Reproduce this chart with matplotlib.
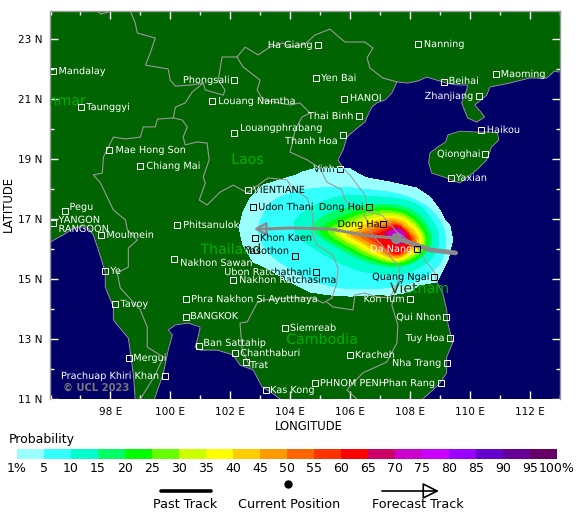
import matplotlib
matplotlib.use('Agg')
import matplotlib.pyplot as plt
import matplotlib.patheffects as pe
from matplotlib.lines import Line2D
from matplotlib.patches import FancyArrowPatch, PathPatch, Polygon
from matplotlib.path import Path
from matplotlib.ticker import MultipleLocator

# sea and island outlines, (lon, lat)
east_sea = [(112.97, 21.90), (112.83, 21.93), (112.57, 21.70), (112.00, 21.70), (111.33, 21.53), (110.67, 21.40),
            (110.57, 21.13), (110.17, 20.80), (110.40, 20.53), (110.50, 20.40), (110.23, 20.23), (109.93, 20.37),
            (109.73, 20.87), (109.90, 21.30), (109.93, 21.47), (109.57, 21.47), (109.23, 21.53), (108.90, 21.63),
            (108.57, 21.73), (108.27, 21.60), (107.93, 21.53), (107.57, 21.57), (107.40, 21.20), (107.17, 20.97),
            (106.90, 20.87), (106.73, 20.73), (106.57, 20.40), (106.50, 20.23), (106.17, 19.97), (105.90, 19.73),
            (105.77, 19.30), (105.60, 18.97), (105.77, 18.70), (106.00, 18.47), (106.50, 17.80), (106.63, 17.23),
            (107.07, 17.13), (107.57, 16.57), (108.27, 16.03), (108.57, 15.53), (108.83, 15.23), (108.90, 14.90),
            (109.10, 14.53), (109.23, 13.97), (109.27, 13.53), (109.43, 12.87), (109.23, 12.40), (109.23, 11.87),
            (109.00, 11.53), (108.77, 11.30), (108.43, 11.00), (113.00, 11.00), (113.00, 21.90)]
andaman_sea = [(96.00, 16.23), (96.23, 16.37), (96.43, 16.47), (96.67, 16.63), (96.90, 16.73), (97.23, 16.73),
               (97.43, 16.47), (97.60, 15.97), (97.83, 15.23), (97.83, 14.73), (98.10, 14.07), (98.10, 13.63),
               (98.60, 13.03), (98.67, 12.53), (98.77, 11.80), (98.83, 11.00), (96.00, 11.00)]
gulf_thailand = [(99.47, 11.00), (99.77, 11.87), (99.93, 12.63), (100.07, 13.13), (99.93, 13.30), (100.17, 13.47),
                 (100.60, 13.53), (101.00, 13.40), (100.93, 13.07), (100.83, 12.73), (101.00, 12.63), (101.57, 12.63),
                 (102.10, 12.47), (102.33, 12.13), (102.77, 11.97), (103.07, 11.40), (103.40, 11.20), (103.67, 11.00)]
hainan = [(108.67, 19.20), (108.93, 19.40), (109.20, 19.57), (109.27, 19.80), (109.67, 19.93), (110.23, 19.90),
          (110.67, 19.90), (110.93, 19.87), (110.97, 19.63), (110.73, 19.40), (110.57, 18.97), (110.23, 18.63),
          (109.67, 18.20), (109.23, 18.37), (108.73, 18.53), (108.63, 18.87)]

# country borders
border_china = [(98.67, 23.93), (98.83, 23.53), (98.90, 23.20), (99.50, 23.03), (99.33, 22.53), (99.17, 22.13),
                (99.93, 22.00), (100.00, 21.63), (100.17, 21.43), (100.73, 21.47), (101.10, 21.53), (101.17, 21.30),
                (101.77, 21.13), (101.83, 21.30), (101.60, 21.63), (101.73, 22.40), (102.23, 22.40), (102.50, 22.73),
                (102.93, 22.47), (103.33, 22.73), (103.77, 22.87), (104.00, 22.73), (104.50, 22.83), (104.83, 23.13),
                (105.33, 23.33), (105.83, 22.90), (106.50, 22.90), (106.77, 22.70), (106.57, 22.37), (106.67, 22.03),
                (107.10, 21.70), (107.57, 21.57)]
border_north = [(97.57, 23.93), (97.67, 23.83), (97.93, 23.90)]
border_myanmar = [(101.10, 21.53), (100.73, 21.23), (100.50, 20.87), (100.17, 20.73), (100.10, 20.37), (99.57, 20.33),
                  (99.50, 20.07), (99.10, 20.07), (99.00, 19.73), (98.50, 19.67), (98.10, 19.73), (98.00, 19.53),
                  (97.77, 19.07), (97.73, 18.53), (97.43, 18.47), (97.67, 18.20), (98.10, 17.30), (98.50, 16.97),
                  (98.57, 16.63), (98.90, 16.30), (98.60, 16.03), (98.60, 15.40), (98.23, 15.20), (98.33, 14.70),
                  (99.00, 13.97), (99.23, 13.40), (99.23, 12.73), (99.77, 12.40), (99.50, 11.80), (99.00, 11.00)]
border_thai_laos = [(100.10, 20.37), (100.40, 20.30), (100.57, 20.07), (100.43, 19.73), (100.50, 19.47), (100.90, 19.57),
                    (101.23, 19.53), (101.30, 18.97), (101.10, 18.40), (101.17, 18.20), (100.97, 17.63), (101.23, 17.47),
                    (101.67, 17.90), (102.10, 18.13), (102.57, 17.87), (103.27, 18.37), (103.90, 18.30), (104.07, 18.03),
                    (104.57, 17.70), (104.77, 17.13), (104.73, 16.57), (104.90, 16.13), (105.43, 15.80), (105.60, 15.37),
                    (105.57, 14.90), (105.40, 14.37)]
border_thai_cambodia = [(102.67, 12.07), (102.40, 12.63), (102.33, 13.53), (102.57, 13.57), (102.90, 14.20), (103.10, 14.30),
                        (104.00, 14.37), (104.77, 14.37), (105.10, 14.20), (105.40, 14.37)]
border_laos_vietnam = [(102.23, 22.40), (102.43, 22.07), (103.00, 21.63), (102.90, 21.30), (103.10, 20.97), (104.00, 20.80),
                       (104.33, 20.87), (104.67, 20.53), (104.40, 20.40), (104.17, 19.97), (104.10, 19.63), (104.00, 19.23),
                       (104.57, 18.97), (105.00, 18.70), (105.23, 18.23), (105.73, 17.97), (105.83, 17.63), (106.43, 17.30),
                       (106.73, 16.47), (107.07, 16.13), (107.27, 15.80), (107.67, 15.40), (107.60, 14.87)]
border_cambodia = [(105.23, 14.23), (105.43, 14.07), (106.10, 13.97), (106.17, 14.47), (106.50, 14.53), (106.90, 14.40),
                   (107.33, 14.37), (107.60, 14.87), (107.40, 14.13), (107.60, 13.47), (107.57, 12.87), (107.23, 12.23),
                   (106.43, 11.87), (105.90, 11.30), (106.23, 11.00)]

# strike probability contours, outermost first
swath_1 = [(104.43, 18.57), (104.90, 18.70), (106.00, 18.67), (106.33, 18.47), (106.57, 18.37), (107.33, 18.23), (108.23, 18.03),
           (108.67, 17.73), (109.00, 17.30), (109.17, 16.97), (109.33, 16.80), (109.43, 16.30), (109.27, 15.63), (109.07, 15.23),
           (108.90, 14.90), (108.30, 14.80), (108.00, 14.57), (107.57, 14.50), (106.00, 14.43), (105.33, 14.47), (104.67, 14.57),
           (104.00, 14.90), (103.23, 15.37), (102.77, 15.57), (102.43, 16.13), (102.30, 16.70), (102.43, 17.23), (102.67, 17.70),
           (103.10, 18.13), (104.23, 18.47)]
swath_5 = [(102.90, 16.70), (103.10, 17.13), (103.33, 17.57), (104.00, 17.87), (104.77, 18.03), (105.77, 18.07), (106.67, 17.97),
           (107.57, 17.87), (108.43, 17.53), (108.90, 17.13), (109.23, 16.47), (109.17, 15.80), (108.90, 15.37), (108.50, 15.03),
           (107.67, 14.73), (106.00, 14.63), (104.77, 14.90), (103.77, 15.47), (103.10, 16.03)]
swath_10 = [(104.10, 16.70), (104.22, 17.08), (104.77, 17.41), (105.33, 17.69), (106.00, 17.80), (106.83, 17.74), (107.67, 17.69),
            (108.33, 17.47), (108.83, 16.86), (109.00, 16.36), (108.89, 15.86), (108.50, 15.47), (107.77, 15.13), (106.55, 15.19),
            (105.66, 15.52), (104.89, 15.97), (104.33, 16.36)]
swath_15 = [(104.72, 16.74), (105.00, 17.02), (105.55, 17.30), (106.22, 17.41), (107.00, 17.50), (107.67, 17.47), (108.33, 17.19),
            (108.75, 16.52), (108.72, 16.02), (108.22, 15.58), (107.55, 15.36), (106.89, 15.47), (106.22, 15.69), (105.44, 16.13),
            (104.89, 16.47)]
swath_20 = [(104.94, 16.63), (105.55, 17.02), (106.55, 17.36), (107.55, 17.39), (108.22, 17.08), (108.66, 16.47), (108.55, 15.91),
            (108.11, 15.58), (107.55, 15.43), (106.66, 15.63), (105.77, 16.08), (105.16, 16.41)]
swath_25 = [(105.22, 16.63), (105.72, 16.91), (106.55, 17.24), (107.55, 17.30), (108.16, 16.99), (108.57, 16.41), (108.46, 15.94),
            (108.05, 15.66), (107.55, 15.49), (106.72, 15.69), (105.89, 16.13), (105.39, 16.41)]
swath_30 = [(105.44, 16.61), (105.89, 16.83), (106.61, 17.13), (107.55, 17.22), (108.11, 16.91), (108.50, 16.39), (108.39, 15.99),
            (108.00, 15.72), (107.55, 15.54), (106.83, 15.74), (106.05, 16.17), (105.61, 16.41)]
swath_35 = [(105.61, 16.58), (106.05, 16.74), (106.66, 17.02), (107.55, 17.13), (108.05, 16.83), (108.42, 16.39), (108.31, 16.02),
            (107.94, 15.77), (107.55, 15.60), (106.89, 15.80), (106.22, 16.19), (105.77, 16.39)]
swath_40 = [(105.83, 16.54), (106.22, 16.66), (106.77, 16.94), (107.55, 17.06), (108.00, 16.77), (108.35, 16.36), (108.24, 16.04),
            (107.89, 15.80), (107.55, 15.64), (106.94, 15.86), (106.39, 16.21), (106.00, 16.39)]
swath_45 = [(106.00, 16.52), (106.44, 16.61), (106.89, 16.86), (107.55, 16.99), (107.94, 16.69), (108.27, 16.36), (108.16, 16.08),
            (107.83, 15.83), (107.55, 15.69), (107.05, 15.88), (106.55, 16.21), (106.16, 16.39)]
swath_50 = [(106.22, 16.49), (106.61, 16.58), (107.00, 16.74), (107.55, 16.93), (107.89, 16.63), (108.22, 16.32), (108.11, 16.08),
            (107.80, 15.86), (107.55, 15.73), (107.11, 15.93), (106.72, 16.21), (106.39, 16.39)]
swath_55 = [(106.50, 16.47), (106.83, 16.54), (107.16, 16.69), (107.55, 16.88), (107.86, 16.63), (108.14, 16.32), (108.02, 16.08),
            (107.75, 15.90), (107.55, 15.77), (107.20, 15.99), (106.89, 16.21), (106.61, 16.39)]
swath_60 = [(106.72, 16.43), (107.00, 16.52), (107.27, 16.66), (107.55, 16.82), (107.83, 16.63), (108.05, 16.32), (107.94, 16.10),
            (107.72, 15.91), (107.55, 15.81), (107.27, 16.02), (107.00, 16.21), (106.83, 16.36)]
swath_65 = [(107.11, 16.54), (107.33, 16.63), (107.55, 16.74), (107.80, 16.61), (107.94, 16.36), (107.83, 16.21), (107.61, 16.11),
            (107.33, 16.30)]
swath_70 = [(107.24, 16.52), (107.55, 16.68), (107.77, 16.58), (107.86, 16.36), (107.75, 16.24), (107.61, 16.17), (107.39, 16.32)]
swath_75 = [(107.42, 16.47), (107.61, 16.58), (107.75, 16.50), (107.80, 16.36), (107.67, 16.24), (107.50, 16.32)]
swath_levels = [swath_1, swath_5, swath_10, swath_15, swath_20, swath_25, swath_30, swath_35, swath_40, swath_45,
                swath_50, swath_55, swath_60, swath_65, swath_70, swath_75]

# track
past_track = [(109.53, 15.87), (108.67, 15.97), (108.23, 16.13), (107.53, 16.37)]
forecast_track = [(107.53, 16.37), (106.67, 16.43), (105.33, 16.67), (104.00, 16.70), (103.23, 16.67)]
forecast_tip = (102.80, 16.67)
current_pos = (107.53, 16.37)

# cities: name, lon, lat
city_names = ['Mandalay', 'Taunggyi', 'Mae Hong Son', 'Chiang Mai', 'Phongsali', 'Louang Namtha', 'Louangphrabang', 'VIENTIANE',
              'Ha Giang', 'Nanning', 'Yen Bai', 'HANOI', 'Beihai', 'Maoming', 'Zhanjiang', 'Haikou', 'Thai Binh', 'Thanh Hoa',
              'Qionghai', 'Yaxian', 'Vinh', 'Dong Hoi', 'Dong Ha', 'Da Nang', 'Quang Ngai', 'Udon Thani', 'Khon Kaen', 'Yasothon',
              'Ubon Ratchathani', 'Nakhon Ratchasima', 'Nakhon Sawan', 'Phitsanulok', 'Pegu', 'YANGON', 'RANGOON', 'Moulmein',
              'Ye', 'Tavoy', 'Phra Nakhon Si Ayutthaya', 'BANGKOK', 'Ban Sattahip', 'Chanthaburi', 'Trat', 'Kas Kong', 'Mergui',
              'Prachuap Khiri Khan', 'Siemreab', 'Kracheh', 'PHNOM PENH', 'Phan Rang', 'Nha Trang', 'Tuy Hoa', 'Qui Nhon', 'Kon Tum']
city_lon = [96.10, 97.03, 97.97, 99.00, 102.13, 101.40, 102.13, 102.60,
            104.93, 108.27, 104.87, 105.80, 109.13, 110.87, 110.30, 110.37, 106.30, 105.77,
            110.50, 109.37, 105.67, 106.63, 107.10, 108.23, 108.80, 102.77, 102.83, 104.17,
            104.87, 102.10, 100.13, 100.23, 96.50, 96.10, 96.10, 97.70,
            97.83, 98.17, 100.53, 100.53, 100.97, 102.17, 102.53, 103.20, 98.63,
            99.83, 103.83, 106.00, 104.83, 109.03, 109.23, 109.33, 109.20, 108.00]
city_lat = [21.93, 20.73, 19.30, 18.77, 21.63, 20.93, 19.87, 17.97,
            22.80, 22.83, 21.70, 21.00, 21.57, 21.83, 21.10, 19.97, 20.43, 19.80,
            19.17, 18.37, 18.67, 17.40, 16.83, 16.00, 15.07, 17.40, 16.37, 15.77,
            15.23, 14.97, 15.67, 16.80, 17.27, 16.87, 16.87, 16.47,
            15.27, 14.17, 14.33, 13.73, 12.77, 12.53, 12.23, 11.30, 12.37,
            11.77, 13.37, 12.47, 11.53, 11.53, 12.20, 13.03, 13.73, 14.33]
label_dx = [5, 5, 6, 6, -4, 6, 6, 5,
            -5, 6, 5, 6, 5, 5, -5, 6, -5, -5,
            -4, 5, -5, -5, -3, -4, -4, 5, 5, -6,
            -4, 6, 6, 6, 4, 5, 5, 5,
            5, 5, 5, 4, 4, 5, 4, 4, 4,
            -5, 5, 5, 5, -5, -5, -5, -4, -5]
label_dy = [0, 0, 0, 0, 0, 0, 5, 0,
            0, 0, 0, 1, 1, 0, 0, 0, 0, -6,
            0, 0, 0, 0, 0, 0, 0, 0, 0, 5,
            0, 0, -4, 0, 4, 3, -6, 0,
            0, 0, 0, 1, 3, 0, -3, 0, 0,
            0, 0, 0, 0, 0, 0, 0, 0, 0]

# country names
country_names = ['Laos', 'Thailand', 'Cambodia', 'Vietnam', 'Myanmar']
country_lon = [102.58, 102.03, 105.07, 108.33, 96.07]
country_lat = [18.97, 15.97, 12.97, 14.67, 20.93]

# colour bar
prob_colors = ['#99FFFF', '#33FFFF', '#00FFCC', '#00FF66', '#00FF00', '#66FF00', '#CCFF00', '#FFFF00', '#FFCC00', '#FF9900',
               '#FF6600', '#FF3300', '#FF0000', '#CC0066', '#CC00CC', '#CC00FF', '#9900FF', '#6600CC', '#660099', '#660066']
prob_labels = ['1%', '5', '10', '15', '20', '25', '30', '35', '40', '45', '50', '55', '60', '65', '70', '75', '80', '85', '90', '95', '100%']

LAND = '#006400'
SEA = '#000066'
GREY = '#9a9a9a'
TRACK = '#8a8a8a'
W, H = 580.0, 519.0
CITY_FONT = 7.0
# agg only honours a clip path for text drawn as a path
AS_PATH = [pe.Normal()]


def fx(px):
    return px / W


def fy(py):
    return 1 - py / H


def rounded(points):
    # closed outline with the read points as bezier controls, so the contours come out blobby
    mids = [((a[0] + b[0]) / 2, (a[1] + b[1]) / 2) for a, b in zip(points, points[1:] + points[:1])]
    verts = [mids[-1]]
    codes = [Path.MOVETO]
    for p, m in zip(points, mids):
        verts += [p, m]
        codes += [Path.CURVE3, Path.CURVE3]
    return Path(verts, codes)


fig = plt.figure(figsize=(5.8, 5.19), dpi=100)
ax = fig.add_axes([fx(50.5), fy(399), 509 / W, 388.5 / H])
ax.set_xlim(96, 113)
ax.set_ylim(11, 23.95)
ax.set_facecolor(LAND)

for sea in [east_sea, andaman_sea, gulf_thailand]:
    ax.add_patch(Polygon(sea, closed=True, fc=SEA, ec='none', antialiased=False, zorder=1))
ax.add_patch(Polygon(hainan, closed=True, fc=LAND, ec=GREY, lw=0.6, zorder=2))

swath_outer = ax.add_patch(Polygon(swath_1, closed=True, fc=prob_colors[0], ec='none', antialiased=False, zorder=3))
for level, color in zip(swath_levels[1:], prob_colors[1:]):
    ax.add_patch(PathPatch(rounded(level), fc=color, ec='none', antialiased=False, zorder=3))

# the axes area with the swath cut out, for whatever is white or green outside it
frame = [(96, 11), (113, 11), (113, 23.95), (96, 23.95), (96, 11)]
outside = Path(frame + swath_1 + swath_1[:1],
               [Path.MOVETO] + [Path.LINETO] * 3 + [Path.CLOSEPOLY] + [Path.MOVETO] + [Path.LINETO] * (len(swath_1) - 1) + [Path.CLOSEPOLY])

for line in [east_sea[:-2], andaman_sea[:-1], gulf_thailand]:
    ax.plot(*zip(*line), color=GREY, lw=0.7, zorder=4)
for line in [border_china, border_north, border_myanmar, border_thai_laos, border_thai_cambodia, border_laos_vietnam, border_cambodia]:
    ax.plot(*zip(*line), color=GREY, lw=0.8, zorder=4)

# country names: green, dark where they sit on the swath
for name, lon, lat in zip(country_names, country_lon, country_lat):
    green = ax.text(lon, lat, name, color='#00B000', fontsize=10.2, ha='center', va='center', zorder=5,
                    clip_on=True, path_effects=AS_PATH)
    green.set_clip_path(outside, ax.transData)
    dark = ax.text(lon, lat, name, color='#3A3000', fontsize=10.2, ha='center', va='center', zorder=5.1,
                   clip_on=True, path_effects=AS_PATH)
    dark.set_clip_path(swath_outer)

# track
ax.plot(*zip(*past_track), color=TRACK, lw=3.4, solid_capstyle='round', zorder=6)
ax.plot(*zip(*forecast_track), color=TRACK, lw=2.2, zorder=6)
ax.add_patch(FancyArrowPatch(forecast_track[-1], forecast_tip, arrowstyle='-|>,head_length=7,head_width=4',
                             mutation_scale=1, fc='none', ec=TRACK, lw=1.8, shrinkA=0, shrinkB=0, zorder=6))
ax.plot(*current_pos, 'o', color=TRACK, ms=7, zorder=7)

# cities: white outside the swath, black on it except the hot core
for name, lon, lat, dx, dy in zip(city_names, city_lon, city_lat, label_dx, label_dy):
    ha = 'left' if dx > 0 else 'right'
    if name != 'RANGOON':
        w = ax.plot(lon, lat, 's', mfc='none', mec='white', mew=0.7, ms=4.6, zorder=8)[0]
        w.set_clip_path(outside, ax.transData)
        m = ax.plot(lon, lat, 's', mfc='none', mec='black', mew=0.7, ms=4.6, zorder=8.1)[0]
        m.set_clip_path(swath_outer)
    t = ax.annotate(name, (lon, lat), xytext=(dx, dy), textcoords='offset pixels', ha=ha, va='center',
                    fontsize=CITY_FONT, color='white', zorder=9, annotation_clip=False, clip_on=True, path_effects=AS_PATH)
    if name != 'Da Nang':
        t.set_clip_path(outside, ax.transData)
        b = ax.annotate(name, (lon, lat), xytext=(dx, dy), textcoords='offset pixels', ha=ha, va='center',
                        fontsize=CITY_FONT, color='black', zorder=9.1, annotation_clip=False, clip_on=True, path_effects=AS_PATH)
        b.set_clip_path(swath_outer)

ax.text(96.42, 11.37, '\u00a9 UCL 2023', color='#777777', fontsize=7.2, weight='bold', va='center', zorder=9)

# axes
ax.xaxis.set_major_locator(MultipleLocator(2))
ax.xaxis.set_minor_locator(MultipleLocator(1))
ax.set_yticks(range(11, 24, 2))
ax.set_yticks(range(12, 24, 2), minor=True)
ax.set_xticks(range(98, 113, 2))
ax.set_xticklabels(['%d E' % v for v in range(98, 113, 2)], fontsize=7.6)
ax.set_yticklabels(['%d N' % v for v in range(11, 24, 2)], fontsize=7.6)
ax.tick_params(which='major', direction='in', length=6, width=1, color='white', top=True, right=True, pad=6)
ax.tick_params(which='minor', direction='in', length=3, width=1, color='white', top=True, right=True)
for s in ax.spines.values():
    s.set_color('#999999')
    s.set_linewidth(1)
ax.spines['bottom'].set_visible(False)
fig.text(fx(309), fy(426), 'LONGITUDE', fontsize=8.4, ha='center', va='center')
fig.text(fx(8), fy(204), 'LATITUDE', rotation=90, fontsize=8.4, ha='center', va='center')

# colour bar
fig.text(fx(9), fy(439), 'Probability', fontsize=9, va='center')
bar_ax = fig.add_axes([fx(17), fy(459), 540 / W, 10 / H])
bar_ax.bar(range(len(prob_colors)), [1] * len(prob_colors), width=1, align='edge', color=prob_colors, linewidth=0, antialiased=False)
bar_ax.set_xlim(0, len(prob_colors))
bar_ax.set_ylim(0, 1)
bar_ax.set_yticks([])
bar_ax.set_xticks(range(len(prob_labels)))
bar_ax.set_xticklabels(prob_labels, fontsize=9)
bar_ax.tick_params(length=0, pad=2)
for s in bar_ax.spines.values():
    s.set_visible(False)

# track legend
fig.add_artist(Line2D([fx(161), fx(211)], [fy(491), fy(491)], color='black', lw=2.6, solid_capstyle='round'))
fig.text(fx(185), fy(504), 'Past Track', fontsize=9.2, ha='center', va='center')
fig.add_artist(Line2D([fx(287.5)], [fy(484)], marker='o', color='black', ms=5))
fig.text(fx(289.5), fy(504), 'Current Position', fontsize=9.2, ha='center', va='center')
fig.add_artist(FancyArrowPatch((fx(382), fy(491)), (fx(439), fy(491)), transform=fig.transFigure,
                               arrowstyle='-|>,head_length=10,head_width=5', mutation_scale=1,
                               fc='none', ec='black', lw=1.2, shrinkA=0, shrinkB=0))
fig.text(fx(417.5), fy(504), 'Forecast Track', fontsize=9.2, ha='center', va='center')

fig.savefig('out.png', dpi=100)
